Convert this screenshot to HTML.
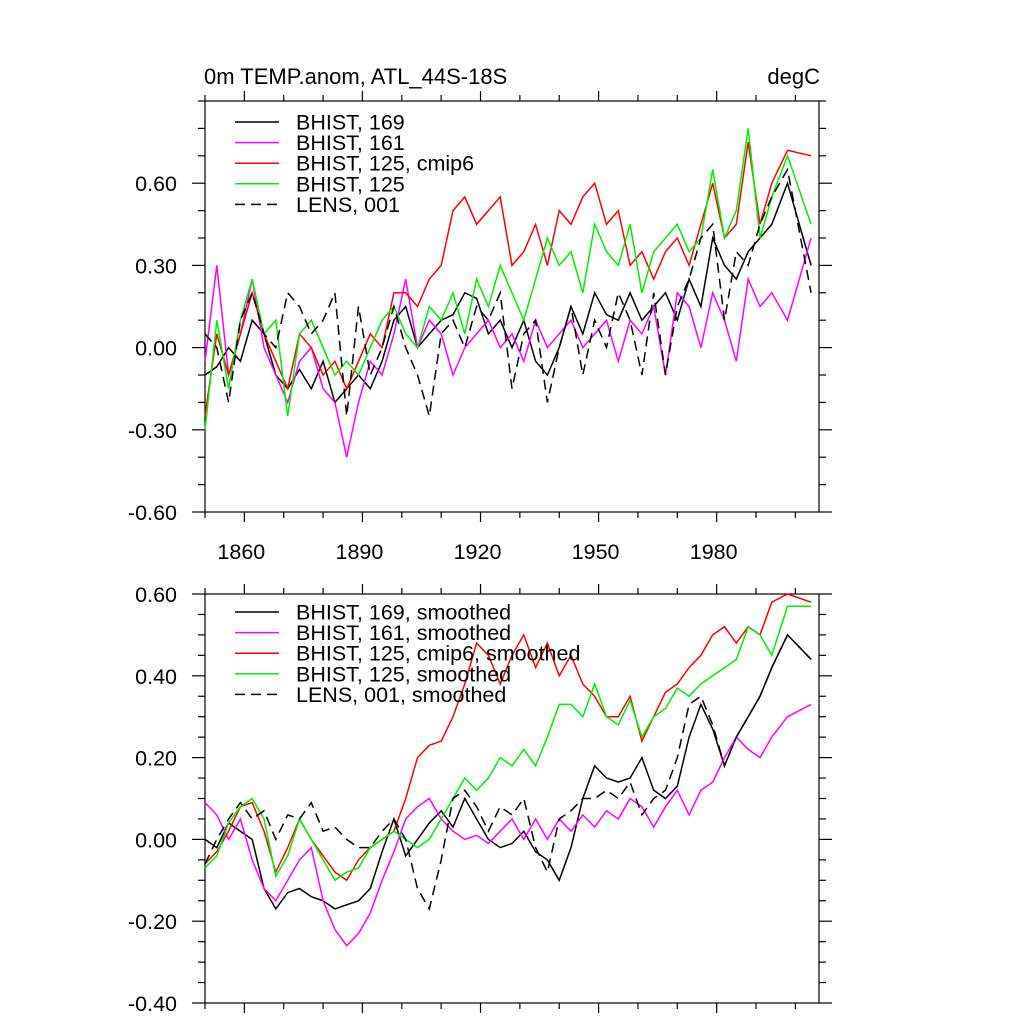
<!DOCTYPE html>
<html><head><meta charset="utf-8"><style>
html,body{margin:0;padding:0;background:#fff;}
svg{display:block;font-family:"Liberation Sans",sans-serif;}
</style></head><body>
<svg id="chart" width="1024" height="1024" viewBox="0 0 1024 1024" xmlns="http://www.w3.org/2000/svg">
<text x="204" y="84" font-size="22">0m TEMP.anom, ATL_44S-18S</text>
<text x="820" y="84" font-size="22" text-anchor="end">degC</text>
<g id="top"></g>
<g id="bot"></g>
</svg>
<script>
const years = [1850,1853,1856,1859,1862,1865,1868,1871,1874,1877,1880,1883,1886,1889,1892,1895,1898,1901,1904,1907,1910,1913,1916,1919,1922,1925,1928,1931,1934,1937,1940,1943,1946,1949,1952,1955,1958,1961,1964,1967,1970,1973,1976,1979,1982,1985,1988,1991,1994,1998,2004];
const xTickYears = [1860,1890,1920,1950,1980];
const topYTicks = [-0.6,-0.3,0.0,0.3,0.6];
const topYLabels = ["-0.60","-0.30","0.00","0.30","0.60"];
const botYTicks = [-0.4,-0.2,0.0,0.2,0.4,0.6];
const botYLabels = ["-0.40","-0.20","0.00","0.20","0.40","0.60"];

const top169 = [-0.1,-0.07,0.0,-0.05,0.1,0.05,-0.1,-0.15,-0.08,-0.15,-0.05,-0.2,-0.15,-0.1,-0.15,-0.05,0.1,0.15,0.0,0.05,0.1,0.12,0.2,0.18,0.05,0.1,0.0,0.1,-0.05,-0.1,0.0,0.15,0.05,0.2,0.12,0.1,0.2,0.1,0.15,0.2,0.1,0.25,0.15,0.4,0.3,0.25,0.35,0.4,0.45,0.6,0.3];
const top161 = [-0.05,0.3,-0.1,0.05,0.25,0.0,-0.1,-0.2,-0.05,0.0,-0.15,-0.2,-0.4,-0.2,-0.05,-0.1,0.05,0.25,0.0,0.1,0.05,-0.1,0.0,0.05,0.1,0.0,0.05,-0.05,0.1,0.0,0.05,0.1,0.0,0.05,0.1,-0.05,0.1,0.05,0.15,-0.1,0.2,0.15,0.0,0.2,0.1,-0.05,0.25,0.15,0.2,0.1,0.4];
const top125c = [-0.25,0.05,-0.1,0.05,0.2,0.05,-0.05,-0.15,0.05,0.0,-0.1,-0.05,-0.15,-0.05,0.05,0.0,0.2,0.2,0.15,0.25,0.3,0.5,0.55,0.45,0.5,0.55,0.3,0.35,0.45,0.3,0.5,0.45,0.55,0.6,0.45,0.5,0.3,0.35,0.25,0.35,0.4,0.3,0.45,0.6,0.4,0.45,0.75,0.45,0.6,0.72,0.7];
const top125 = [-0.3,0.1,-0.15,0.1,0.25,0.05,0.1,-0.25,0.05,0.1,0.0,-0.1,-0.05,-0.1,0.0,0.1,0.15,0.05,0.0,0.15,0.1,0.2,0.05,0.25,0.15,0.3,0.2,0.1,0.25,0.4,0.3,0.35,0.2,0.45,0.35,0.3,0.45,0.2,0.35,0.4,0.45,0.35,0.4,0.65,0.4,0.5,0.8,0.4,0.55,0.7,0.45];
const topLens = [0.05,0.0,-0.2,0.1,0.2,0.05,0.0,0.2,0.15,0.05,0.1,0.2,-0.25,0.15,-0.1,0.0,0.15,0.0,-0.1,-0.25,0.05,0.1,0.0,0.15,0.1,0.2,-0.15,0.05,0.1,-0.2,0.0,0.15,-0.1,0.1,0.0,0.2,0.1,-0.1,0.2,-0.1,0.15,0.25,0.4,0.45,0.1,0.35,0.3,0.45,0.55,0.65,0.2];

const bot169 = [0.0,-0.02,0.04,0.02,0.0,-0.12,-0.17,-0.13,-0.12,-0.14,-0.15,-0.17,-0.16,-0.15,-0.12,-0.03,0.05,-0.04,0.0,0.04,0.07,0.03,0.1,0.05,0.0,-0.02,-0.01,0.02,-0.03,-0.05,-0.1,-0.02,0.1,0.18,0.15,0.14,0.15,0.2,0.12,0.1,0.13,0.25,0.33,0.27,0.18,0.25,0.3,0.35,0.42,0.5,0.44];
const bot161 = [0.09,0.06,0.0,0.05,-0.05,-0.12,-0.15,-0.1,-0.05,-0.02,-0.15,-0.22,-0.26,-0.23,-0.18,-0.1,-0.03,0.05,0.08,0.1,0.05,0.02,0.0,0.01,-0.01,0.02,0.05,0.0,0.05,0.0,0.05,0.02,0.06,0.03,0.07,0.05,0.1,0.08,0.03,0.08,0.12,0.06,0.12,0.14,0.2,0.25,0.22,0.2,0.25,0.3,0.33];
const bot125c = [-0.06,-0.03,0.02,0.08,0.09,0.02,-0.08,-0.02,0.05,0.0,-0.04,-0.08,-0.1,-0.05,-0.02,0.0,0.02,0.1,0.2,0.23,0.24,0.3,0.38,0.48,0.45,0.38,0.45,0.5,0.42,0.48,0.4,0.45,0.38,0.35,0.3,0.3,0.35,0.24,0.3,0.36,0.38,0.42,0.45,0.5,0.52,0.48,0.52,0.5,0.58,0.6,0.58];
const bot125 = [-0.07,-0.04,0.04,0.08,0.1,0.05,-0.09,-0.04,0.05,0.0,-0.05,-0.1,-0.08,-0.07,-0.02,0.0,0.02,0.0,-0.02,0.0,0.05,0.1,0.15,0.12,0.15,0.2,0.18,0.22,0.18,0.25,0.33,0.33,0.3,0.38,0.3,0.28,0.34,0.25,0.3,0.32,0.37,0.35,0.38,0.4,0.42,0.44,0.52,0.5,0.45,0.57,0.57];
const botLens = [-0.06,0.0,0.05,0.09,0.05,0.07,0.0,0.06,0.05,0.09,0.02,0.03,0.0,-0.02,-0.02,0.02,0.05,0.0,-0.12,-0.17,-0.05,0.1,0.12,0.08,0.02,0.08,0.06,0.1,-0.02,-0.08,0.05,0.07,0.1,0.1,0.12,0.1,0.14,0.06,0.1,0.12,0.2,0.33,0.35,0.28,0.18,0.25,0.3,0.35,0.42,0.5,0.44];

const NS="http://www.w3.org/2000/svg";
const X0=205,X1=819,XMIN=1850,XMAX=2006;
const FS=21.5;
function xs(v){return X0+(v-XMIN)/(XMAX-XMIN)*(X1-X0);}
function mk(tag,attrs,parent){const e=document.createElementNS(NS,tag);for(const k in attrs)e.setAttribute(k,attrs[k]);parent.appendChild(e);return e;}

function panel(g,prefix,Y0,Y1,ymin,ymax,yt,yl,minorStep,showX,series,legendY){
  const ys=v=>Y1-(v-ymin)/(ymax-ymin)*(Y1-Y0);
  const ax=mk('g',{stroke:'#000','stroke-width':1.2,fill:'none'},g);
  
  
  mk('rect',{x:X0,y:Y0,width:X1-X0,height:Y1-Y0},ax);
  for(let yr=1850;yr<=2006;yr+=10){
    const maj=xTickYears.includes(yr);const L=maj?10:6;const x=xs(yr);
    mk('line',{x1:x,x2:x,y1:Y0,y2:Y0-L},ax);
    mk('line',{x1:x,x2:x,y1:Y1,y2:Y1+L},ax);
  }
  for(let v=ymin;v<=ymax+1e-9;v+=minorStep){
    const y=ys(v);const maj=yt.some(t=>Math.abs(t-v)<1e-6);const L=maj?13:7;
    mk('line',{x1:X0,x2:X0-L,y1:y,y2:y},ax);
    mk('line',{x1:X1,x2:X1+L,y1:y,y2:y},ax);
  }
  yt.forEach((t,i)=>{
    const tx=mk('text',{x:177,y:ys(t)+8,'font-size':FS,'text-anchor':'end'},g);
    
    
    tx.textContent=yl[i];
  });
  if(showX){xTickYears.forEach(yr=>{
    const tx=mk('text',{x:xs(yr)-3,y:Y1+47,'font-size':FS,'text-anchor':'middle'},g);
    
    
    tx.textContent=yr;
  });}
  series.forEach(s=>{
    const pts=s.data.map((v,i)=>xs(years[i]).toFixed(1)+','+ys(v).toFixed(1)).join(' ');
    const p=mk('polyline',{points:pts,fill:'none',stroke:s.color,'stroke-width':1.5,'stroke-dasharray':s.dash||'none'},g);
    
    
  });
  series.forEach((s,i)=>{
    const y=legendY+i*20.6;
    const ln=mk('line',{x1:235,x2:279,y1:y,y2:y,stroke:s.color,'stroke-width':1.5,'stroke-dasharray':s.dash||'none'},g);
    
    
    const tx=mk('text',{x:296,y:y+7.5,'font-size':FS},g);
    
    
    tx.textContent=s.label;
  });
}
panel(document.getElementById('top'),'top',101,512,-0.6,0.9,topYTicks,topYLabels,0.1,true,[
  {id:'169',data:top169,color:'#000',label:'BHIST, 169'},
  {id:'161',data:top161,color:'#ff00ff',label:'BHIST, 161'},
  {id:'125-cmip6',data:top125c,color:'#ff0000',label:'BHIST, 125, cmip6'},
  {id:'125',data:top125,color:'#00ee00',label:'BHIST, 125'},
  {id:'lens',data:topLens,color:'#000',dash:'10,6',label:'LENS, 001'}],122);
panel(document.getElementById('bot'),'bottom',594,1003,-0.4,0.6,botYTicks,botYLabels,0.05,false,[
  {id:'169-smoothed',data:bot169,color:'#000',label:'BHIST, 169, smoothed'},
  {id:'161-smoothed',data:bot161,color:'#ff00ff',label:'BHIST, 161, smoothed'},
  {id:'125-cmip6-smoothed',data:bot125c,color:'#ff0000',label:'BHIST, 125, cmip6, smoothed'},
  {id:'125-smoothed',data:bot125,color:'#00ee00',label:'BHIST, 125, smoothed'},
  {id:'lens-smoothed',data:botLens,color:'#000',dash:'10,6',label:'LENS, 001, smoothed'}],612);
</script>
</body></html>
